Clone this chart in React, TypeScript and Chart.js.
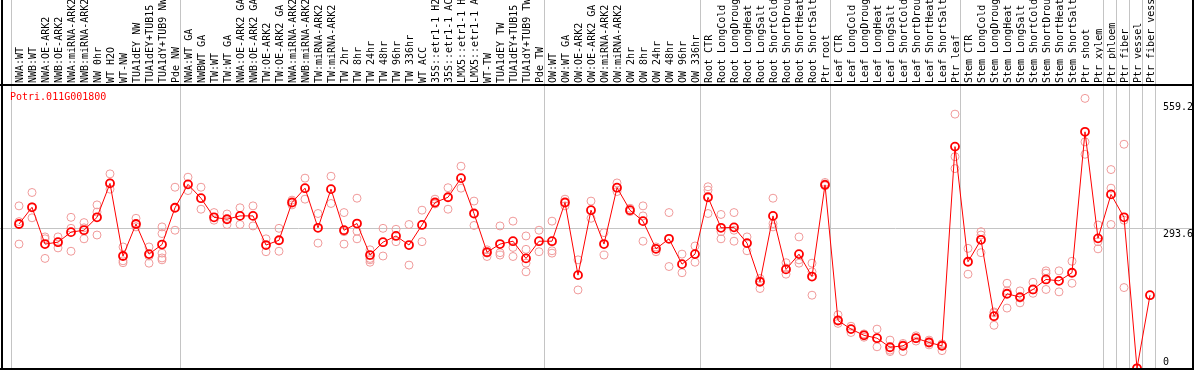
import React, { useEffect, useRef } from "react";
import { Chart, registerables } from "chart.js";

Chart.register(...registerables);

const categories: string[] = [
  "NWA:WT", "NWB:WT", "NWA:OE-ARK2", "NWB:OE-ARK2", "NWA:miRNA-ARK2", "NWB:miRNA-ARK2", "NW 0hr", "WT H2O", "WT-NW", "TUA1dEY NW", "TUA1dEY+TUB15 NW", "TUA1dY+TUB9 NW", "Pde NW",
  "NWA:WT GA", "NWBWT GA", "TW:WT", "TW:WT GA", "NWA:OE-ARK2 GA", "NWB:OE-ARK2 GA", "TW:OE-ARK2", "TW:OE-ARK2 GA", "NWA:miRNA-ARK2 GA", "NWB:miRNA-ARK2 GA", "TW:miRNA-ARK2", "TW:miRNA-ARK2 GA", "TW 2hr", "TW 8hr", "TW 24hr", "TW 48hr", "TW 96hr", "TW 336hr", "WT ACC", "35S::etr1-1 H2O", "35S::etr1-1 ACC", "LMX5::etr1-1 H2O", "LMX5::etr1-1 ACC", "WT-TW", "TUA1dEY TW", "TUA1dEY+TUB15 TW", "TUA1dY+TUB9 TW", "Pde TW",
  "OW:WT", "OW:WT GA", "OW:OE-ARK2", "OW:OE-ARK2 GA", "OW:miRNA-ARK2", "OW:miRNA-ARK2 GA", "OW 2hr", "OW 8hr", "OW 24hr", "OW 48hr", "OW 96hr", "OW 336hr",
  "Root CTR", "Root LongCold", "Root LongDrought", "Root LongHeat", "Root LongSalt", "Root ShortCold", "Root ShortDrought", "Root ShortHeat", "Root ShortSalt", "Ptr root",
  "Leaf CTR", "Leaf LongCold", "Leaf LongDrought", "Leaf LongHeat", "Leaf LongSalt", "Leaf ShortCold", "Leaf ShortDrought", "Leaf ShortHeat", "Leaf ShortSalt", "Ptr leaf",
  "Stem CTR", "Stem LongCold", "Stem LongDrought", "Stem LongHeat", "Stem LongSalt", "Stem ShortCold", "Stem ShortDrought", "Stem ShortHeat", "Stem ShortSalt", "Ptr shoot", "Ptr xylem",
  "Ptr phloem", "Ptr fiber", "Ptr vessel", "Ptr fiber vessel",
];

const means: number[] = [
  302, 337, 260, 264, 285, 289, 316, 387, 235, 302, 239, 259, 336,
  385, 356, 316, 312, 319, 319, 258, 268, 347, 377, 294, 375, 289, 303, 237, 264, 277, 258, 300, 347, 358, 398, 324, 243, 260, 266, 230, 266,
  266, 347, 195, 331, 260, 378, 331, 308, 250, 271, 218, 239,
  358, 294, 295, 262, 181, 319, 207, 239, 192, 384,
  100, 82, 69, 63, 44, 47, 63, 54, 47, 464,
  223, 269, 109, 156, 149, 165, 186, 183, 200, 495, 272,
  364, 316, 0, 153,
];

const replicates: number[][] = [
  [340, 307, 260], [368, 315, 338], [275, 230, 271], [275, 252, 264], [316, 293, 245], [305, 271, 294], [342, 327, 279], [407, 375, 388], [254, 225, 221], [314, 296, 302], [254, 235, 220], [296, 282, 241, 231, 227], [379, 289],
  [400, 372], [379, 333], [326, 310], [323, 301], [336, 301], [340, 298], [271, 244], [293, 245], [352, 342], [398, 354], [324, 262], [402, 345], [326, 286, 260], [356, 287, 271], [248, 230, 227, 222], [293, 235], [291, 265], [301, 216], [331, 265], [354, 344], [378, 333], [423, 377], [350, 299], [248, 234, 241], [298, 242, 237], [308, 253, 234], [277, 249, 220, 202], [289, 244],
  [308, 246, 241], [340, 354], [227, 164], [350, 314], [284, 237], [388, 370], [335, 328], [340, 319, 266], [244, 254], [326, 213], [239, 200], [256, 222],
  [380, 373, 324], [322, 286, 271], [326, 289, 266], [275, 246], [188, 167, 183], [356, 303, 296], [221, 197, 210], [275, 227, 220], [220, 202, 153], [389, 386, 382],
  [112, 94, 101], [88, 75, 82], [72, 65, 70], [82, 45, 63], [59, 35, 38], [52, 35, 49], [68, 57, 63], [59, 49, 55], [49, 37, 51], [532, 443, 418],
  [251, 197], [286, 279, 242], [118, 90, 116], [178, 162, 126], [162, 137, 147], [180, 157, 164], [204, 199, 165], [204, 160], [224, 178], [565, 474, 448], [300, 265, 250],
  [416, 377, 301], [469, 310, 169], [0, 0], [153],
];

const groupStarts: number[] = [0, 13, 41, 53, 63, 73, 84, 85, 86, 87, 88];
const yTickValues: number[] = [559.2, 293.6, 0];
const geneTitle = "Potri.011G001800";

const MONO = "'DejaVu Sans Mono', monospace";

const decorPlugin = {
  id: "decor",
  beforeDatasetsDraw(chart: any) {
    const { ctx, chartArea, scales } = chart;
    const xs = scales.x;
    const ys = scales.y;
    ctx.save();
    ctx.strokeStyle = "#c4c4c4";
    ctx.lineWidth = 1;
    const gy = Math.round(ys.getPixelForValue(293.6)) + 0.5;
    ctx.beginPath();
    ctx.moveTo(0, gy);
    ctx.lineTo(chart.width, gy);
    ctx.stroke();
    for (const g of groupStarts) {
      const px = Math.round(xs.getPixelForValue(g - 0.62)) + 0.5;
      ctx.beginPath();
      ctx.moveTo(px, 0);
      ctx.lineTo(px, chartArea.bottom);
      ctx.stroke();
    }
    ctx.restore();
  },
  afterDraw(chart: any) {
    const { ctx, scales } = chart;
    const ys = scales.y;
    ctx.save();
    ctx.fillStyle = "#000";
    ctx.fillRect(1, 0, 2, chart.height);
    ctx.fillRect(1192, 0, 2, chart.height);
    ctx.fillRect(0, 84, chart.width, 2);
    ctx.fillRect(0, 368, chart.width, 2);
    ctx.font = "10px " + MONO;
    ctx.textAlign = "left";
    ctx.textBaseline = "alphabetic";
    for (const v of yTickValues) {
      const py = ys.getPixelForValue(v);
      const base = v > 0 ? py + 9 : py - 3;
      ctx.fillText(String(v), 1163, base);
    }
    ctx.fillStyle = "#ff0000";
    ctx.fillText(geneTitle, 10, 100);
    ctx.restore();
  },
};

export default function App() {
  const ref = useRef<HTMLCanvasElement | null>(null);
  useEffect(() => {
    if (!ref.current) return;
    const meanData = means.map((v, i) => ({ x: i, y: v }));
    const repData: { x: number; y: number }[] = [];
    replicates.forEach((arr, i) => arr.forEach((v) => repData.push({ x: i, y: v })));
    const chart = new Chart(ref.current, {
      type: "line",
      data: {
        datasets: [
          {
            type: "line",
            data: meanData,
            borderColor: "#ff0000",
            borderWidth: 1,
            pointRadius: 4,
            pointBorderWidth: 1.8,
            pointBorderColor: "#ff0000",
            pointBackgroundColor: "rgba(0,0,0,0)",
            fill: false,
            tension: 0,
          },
          {
            type: "scatter",
            data: repData,
            showLine: false,
            pointRadius: 4,
            pointBorderWidth: 1,
            pointBorderColor: "#f09a9a",
            pointBackgroundColor: "rgba(0,0,0,0)",
          } as any,
        ],
      },
      options: {
        animation: false,
        responsive: false,
        events: [],
        layout: { autoPadding: false, padding: { left: 1, right: 1, top: 0, bottom: 1 } },
        plugins: { legend: { display: false }, tooltip: { enabled: false }, title: { display: false } },
        scales: {
          x: {
            type: "linear",
            position: "top",
            min: -18 / 13,
            max: 87 + 43 / 13,
            grid: { display: false, drawTicks: false },
            border: { display: false },
            afterBuildTicks: (axis: any) => {
              axis.ticks = categories.map((_, i) => ({ value: i }));
            },
            afterFit: (axis: any) => {
              axis.height = 85;
              axis.paddingLeft = 0;
              axis.paddingRight = 0;
              axis.paddingTop = 0;
              axis.paddingBottom = 0;
            },
            ticks: {
              autoSkip: false,
              minRotation: 90,
              maxRotation: 90,
              padding: 2,
              labelOffset: 13,
              color: "#000",
              font: { family: MONO, size: 10 },
              callback: (v: any) => categories[Math.round(Number(v))] ?? "",
            },
          },
          y: {
            type: "linear",
            display: false,
            min: -1.5,
            max: 593,
          },
        },
      },
      plugins: [decorPlugin],
    } as any);
    return () => chart.destroy();
  }, []);
  return (
    <div style={{ position: "absolute", left: 0, top: 0, width: 1194, height: 370, background: "#fff" }}>
      <canvas ref={ref} width={1194} height={370} style={{ display: "block", width: 1194, height: 370 }} />
    </div>
  );
}
